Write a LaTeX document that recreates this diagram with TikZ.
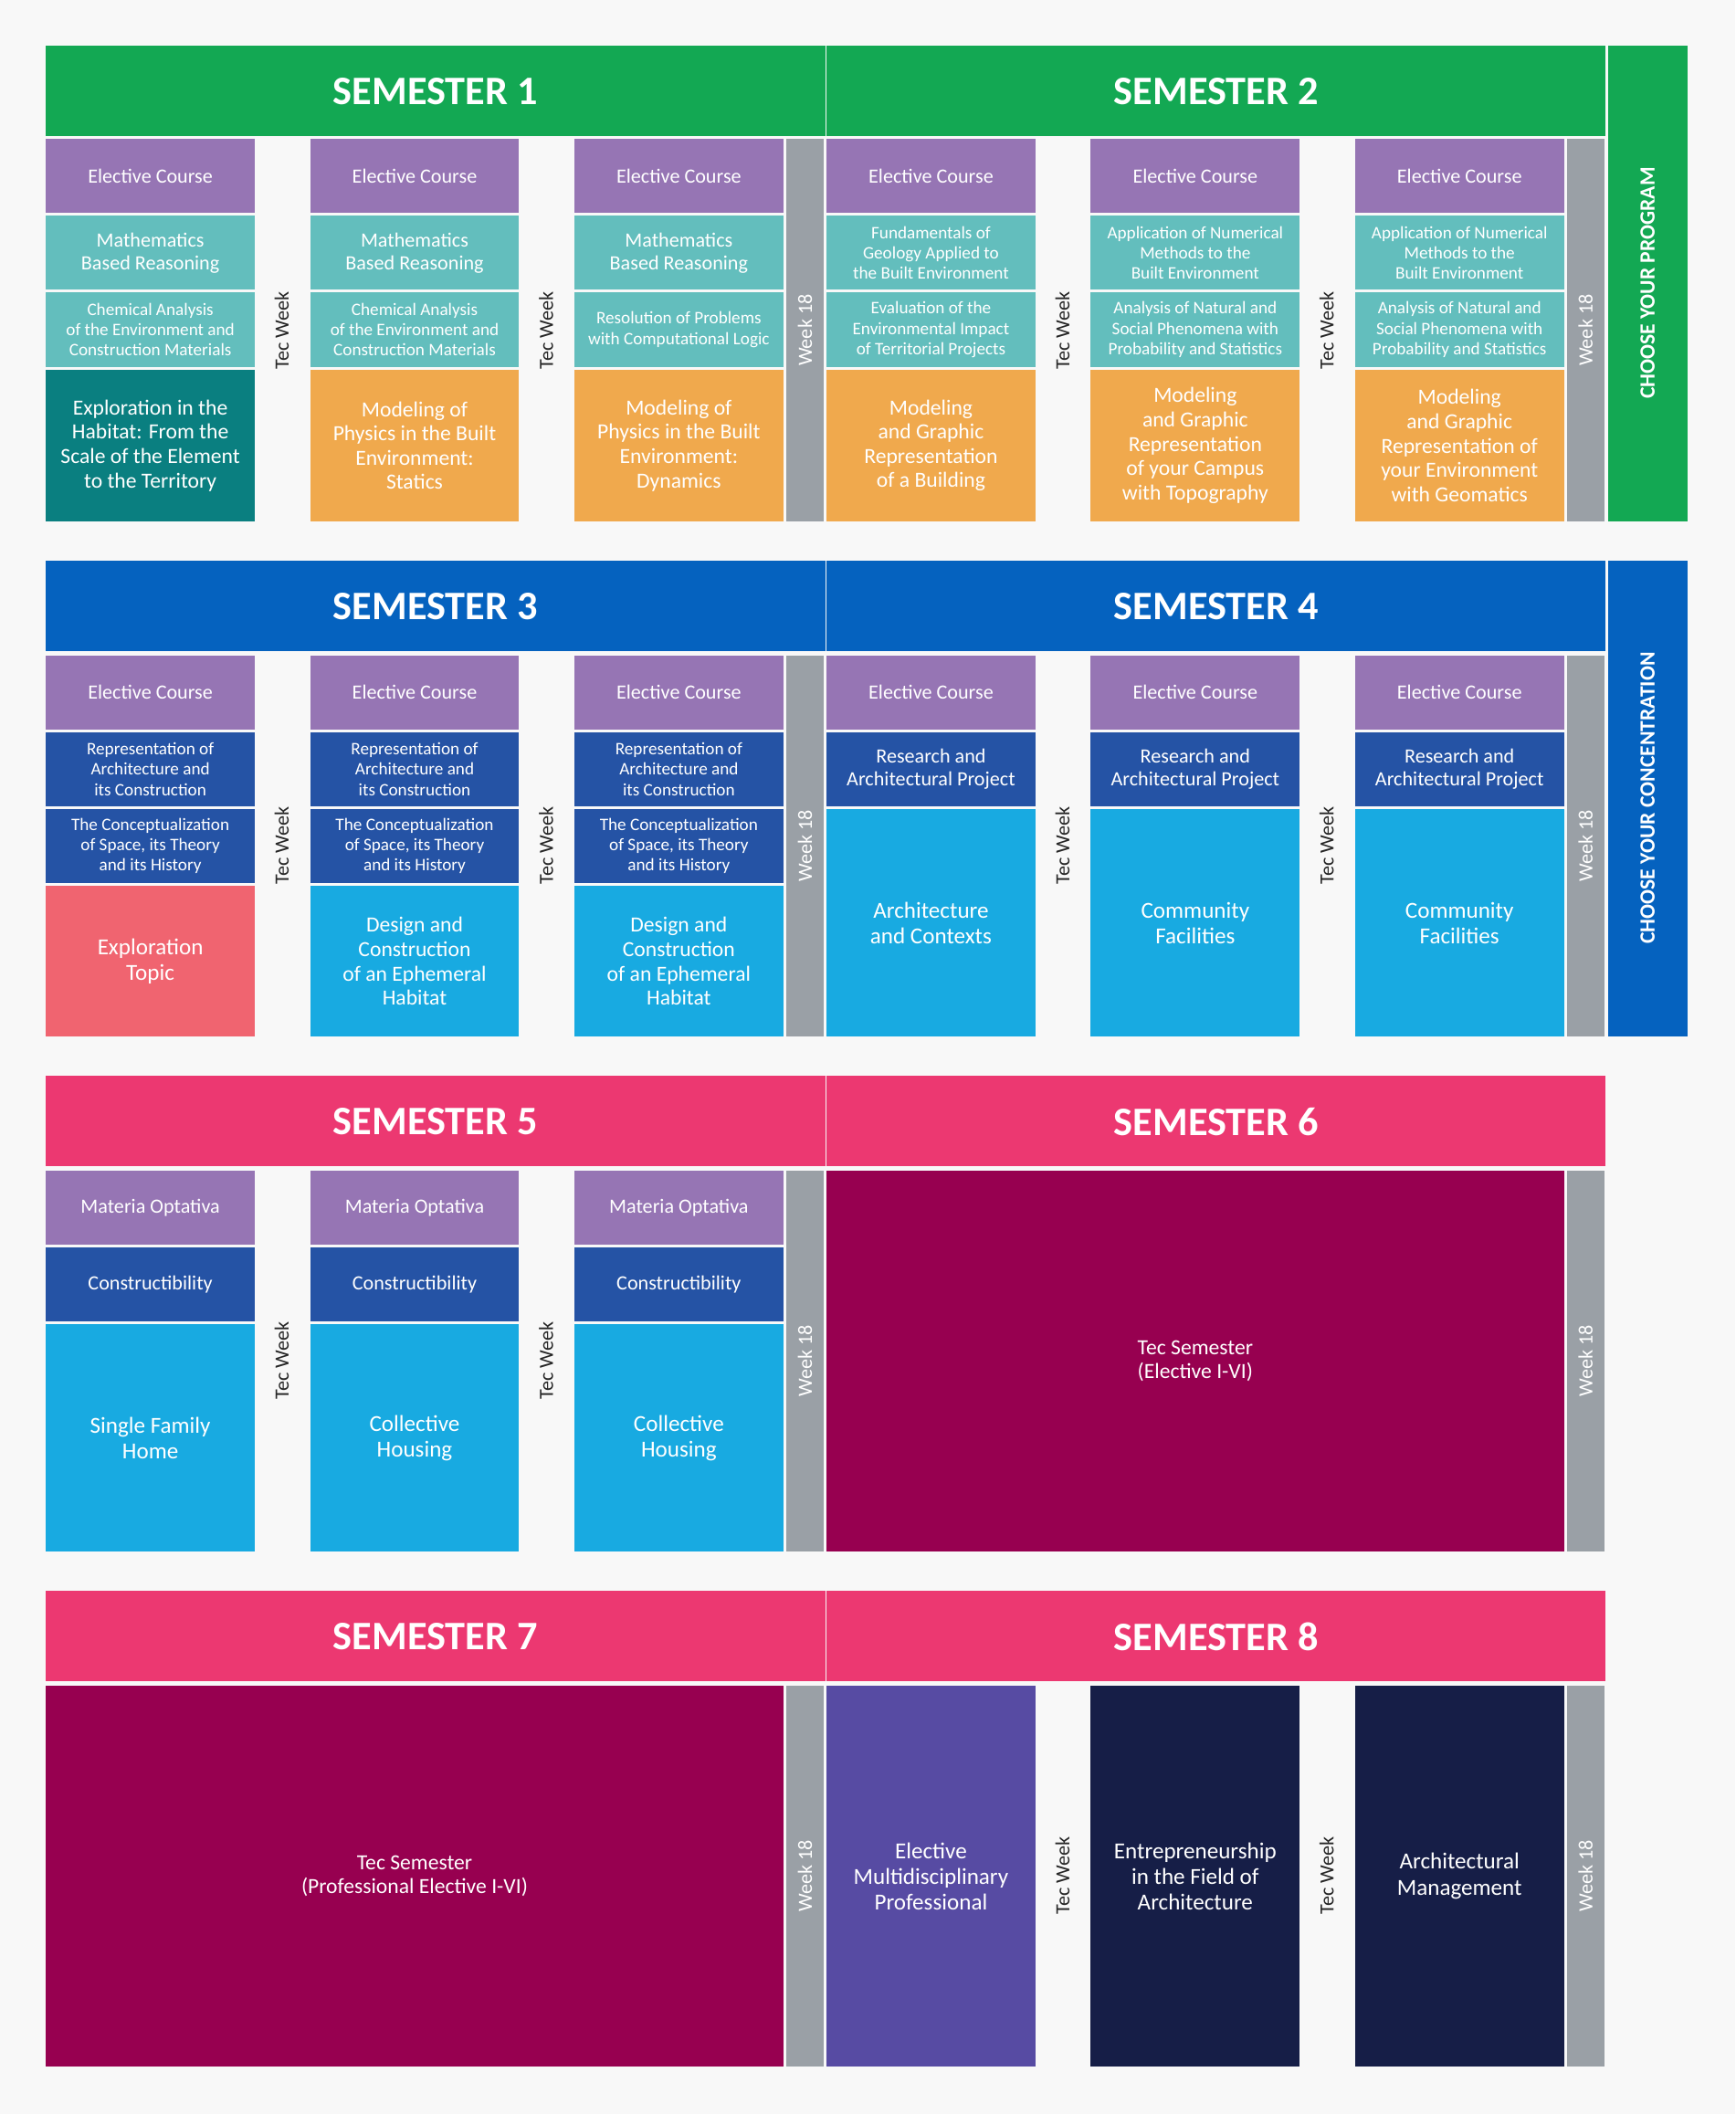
\documentclass[tikz,border=0pt]{standalone}
\usepackage{fontspec}
\setmainfont{Carlito}
\definecolor{bg}{HTML}{F8F8F8}
\definecolor{cgreen}{HTML}{13A853}
\definecolor{cblue}{HTML}{0562BF}
\definecolor{cpink}{HTML}{EC3871}
\definecolor{cpurple}{HTML}{9675B4}
\definecolor{cteal}{HTML}{63BEBD}
\definecolor{cdteal}{HTML}{0A7F80}
\definecolor{corange}{HTML}{F0A94D}
\definecolor{cnavy}{HTML}{2553A5}
\definecolor{clblue}{HTML}{18AAE1}
\definecolor{ccoral}{HTML}{F06470}
\definecolor{cmaroon}{HTML}{970050}
\definecolor{cgray}{HTML}{9AA0A6}
\definecolor{cviolet}{HTML}{574BA3}
\definecolor{cdnavy}{HTML}{161E47}
\newcounter{cc}
\tikzset{
 sz/.style={font=\fontsize{#1pt}{\the\numexpr#1+2\relax pt}\selectfont},
 ctext/.style={text=white,align=center,inner sep=0pt},
 vtext/.style={rotate=90,align=center,inner sep=0pt},
}
% x1 y1 x2 y2 color size text
\newcommand\cl[7]{\stepcounter{cc}\fill[#5] (#1,#2) rectangle (#3,#4);
 \node[ctext,sz=#6] (c\arabic{cc}) at ({(#1+#3)/2},{(#2+#4)/2}) {#7};}
\newcommand\tw[2]{\stepcounter{cc}\node[vtext,sz=15,text={black!85}] (c\arabic{cc}) at (#1,#2) {Tec Week};}
\newcommand\wk[3]{\stepcounter{cc}\fill[cgray] (#1,#2) rectangle ({#1+28},#3);
 \node[vtext,sz=15,text=white] (c\arabic{cc}) at ({#1+14},{(#2+#3)/2}) {Week 18};}
\newcommand\hd[4]{\stepcounter{cc}\fill[#4] (#1,#2) rectangle ({#1+578},{#2+67});
 \node[ctext,sz=30] (c\arabic{cc}) at ({#1+289},{#2+34}) {\bfseries #3};}
\begin{document}
\begin{tikzpicture}[x=1pt,y=-1pt]
\fill[bg] (0,0) rectangle (1287,1568);
\useasboundingbox (0,0) rectangle (1287,1568);
% ===== Block 1
\hd{34}{34}{SEMESTER 1}{cgreen}
\hd{613}{34}{SEMESTER 2}{cgreen}
\fill[cgreen] (1193,34) rectangle (1252,387);
\node[vtext,sz=16,text=white] (prog) at (1222,210) {\bfseries CHOOSE YOUR PROGRAM};
\foreach \x in {34,230,426,613,809,1005}{\cl{\x}{103}{\x+155}{158}{cpurple}{15}{Elective Course}}
\cl{34}{160}{189}{215}{cteal}{15}{Mathematics\\Based Reasoning}
\cl{230}{160}{385}{215}{cteal}{15}{Mathematics\\Based Reasoning}
\cl{426}{160}{581}{215}{cteal}{15}{Mathematics\\Based Reasoning}
\cl{34}{217}{189}{272}{cteal}{13}{Chemical Analysis\\of the Environment and\\Construction Materials}
\cl{230}{217}{385}{272}{cteal}{13}{Chemical Analysis\\of the Environment and\\Construction Materials}
\cl{426}{217}{581}{272}{cteal}{13}{Resolution of Problems\\with Computational Logic}
\cl{34}{274}{189}{387}{cdteal}{16}{Exploration in the\\Habitat: From the\\Scale of the Element\\to the Territory}
\cl{230}{274}{385}{387}{corange}{16}{Modeling of\\Physics in the Built\\Environment:\\Statics}
\cl{426}{274}{581}{387}{corange}{16}{Modeling of\\Physics in the Built\\Environment:\\Dynamics}
\cl{613}{160}{768}{215}{cteal}{13}{Fundamentals of\\Geology Applied to\\the Built Environment}
\cl{809}{160}{964}{215}{cteal}{13}{Application of Numerical\\Methods to the\\Built Environment}
\cl{1005}{160}{1160}{215}{cteal}{13}{Application of Numerical\\Methods to the\\Built Environment}
\cl{613}{217}{768}{272}{cteal}{13}{Evaluation of the\\Environmental Impact\\of Territorial Projects}
\cl{809}{217}{964}{272}{cteal}{13}{Analysis of Natural and\\Social Phenomena with\\Probability and Statistics}
\cl{1005}{217}{1160}{272}{cteal}{13}{Analysis of Natural and\\Social Phenomena with\\Probability and Statistics}
\cl{613}{274}{768}{387}{corange}{16}{Modeling\\and Graphic\\Representation\\of a Building}
\cl{809}{274}{964}{387}{corange}{16}{Modeling\\and Graphic\\Representation\\of your Campus\\with Topography}
\cl{1005}{274}{1160}{387}{corange}{16}{Modeling\\and Graphic\\Representation of\\your Environment\\with Geomatics}
\tw{209}{245}\tw{405}{245}\tw{788}{245}\tw{984}{245}
\wk{583}{103}{387}\wk{1162}{103}{387}
% ===== Block 2
\hd{34}{416}{SEMESTER 3}{cblue}
\hd{613}{416}{SEMESTER 4}{cblue}
\fill[cblue] (1193,416) rectangle (1252,769);
\node[vtext,sz=16,text=white] (conc) at (1222,592) {\bfseries CHOOSE YOUR CONCENTRATION};
\foreach \x in {34,230,426,613,809,1005}{\cl{\x}{486}{\x+155}{541}{cpurple}{15}{Elective Course}}
\foreach \x in {34,230,426}{
 \cl{\x}{543}{\x+155}{598}{cnavy}{13}{Representation of\\Architecture and\\its Construction}
 \cl{\x}{600}{\x+155}{655}{cnavy}{13}{The Conceptualization\\of Space, its Theory\\and its History}}
\cl{34}{657}{189}{769}{ccoral}{17}{Exploration\\Topic}
\cl{230}{657}{385}{769}{clblue}{16}{Design and\\Construction\\of an Ephemeral\\Habitat}
\cl{426}{657}{581}{769}{clblue}{16}{Design and\\Construction\\of an Ephemeral\\Habitat}
\foreach \x in {613,809,1005}{\cl{\x}{543}{\x+155}{598}{cnavy}{15}{Research and\\Architectural Project}}
\cl{613}{600}{768}{769}{clblue}{17}{Architecture\\and Contexts}
\cl{809}{600}{964}{769}{clblue}{17}{Community\\Facilities}
\cl{1005}{600}{1160}{769}{clblue}{17}{Community\\Facilities}
\tw{209}{627}\tw{405}{627}\tw{788}{627}\tw{984}{627}
\wk{583}{486}{769}\wk{1162}{486}{769}
% ===== Block 3
\hd{34}{798}{SEMESTER 5}{cpink}
\hd{613}{798}{SEMESTER 6}{cpink}
\foreach \x in {34,230,426}{
 \cl{\x}{868}{\x+155}{923}{cpurple}{15}{Materia Optativa}
 \cl{\x}{925}{\x+155}{980}{cnavy}{15}{Constructibility}}
\cl{34}{982}{189}{1151}{clblue}{17}{Single Family\\Home}
\cl{230}{982}{385}{1151}{clblue}{17}{Collective\\Housing}
\cl{426}{982}{581}{1151}{clblue}{17}{Collective\\Housing}
\cl{613}{868}{1160}{1151}{cmaroon}{16}{Tec Semester\\(Elective I-VI)}
\tw{209}{1009}\tw{405}{1009}
\wk{583}{868}{1151}\wk{1162}{868}{1151}
% ===== Block 4
\hd{34}{1180}{SEMESTER 7}{cpink}
\hd{613}{1180}{SEMESTER 8}{cpink}
\cl{34}{1250}{581}{1533}{cmaroon}{16}{Tec Semester\\(Professional Elective I-VI)}
\cl{613}{1250}{768}{1533}{cviolet}{17}{Elective\\Multidisciplinary\\Professional}
\cl{809}{1250}{964}{1533}{cdnavy}{17}{Entrepreneurship\\in the Field of\\Architecture}
\cl{1005}{1250}{1160}{1533}{cdnavy}{17}{Architectural\\Management}
\tw{788}{1391}\tw{984}{1391}
\wk{583}{1250}{1533}\wk{1162}{1250}{1533}
\end{tikzpicture}
\end{document}
